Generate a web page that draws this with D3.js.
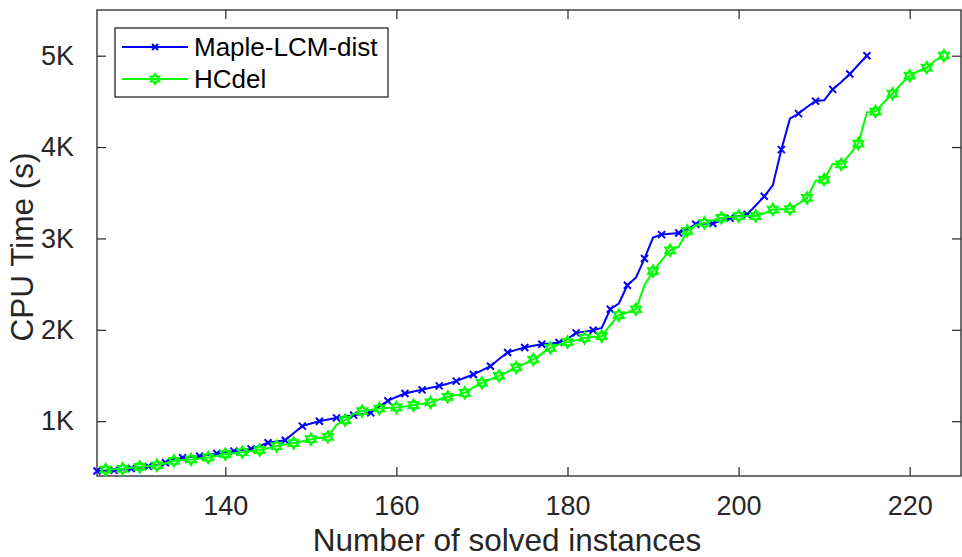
<!DOCTYPE html>
<html>
<head>
<meta charset="utf-8">
<script src="https://d3js.org/d3.v7.min.js"></script>
<style>
  body { margin: 0; background: #fff; }
  svg { display: block; font-family: "Liberation Sans", Arial, sans-serif; }
  .tick text { fill: #262626; }
</style>
</head>
<body>
<div id="chart"></div>
<script>
// Maple-LCM-dist, starts at 125 solved instances, one value per instance
var mapleStart = 125;
var mapleTime = [455, 458, 462, 472, 482, 493, 505, 520, 545, 590, 600, 610, 617, 632, 647, 660, 672, 685, 697, 730,
                 763, 778, 792, 870, 946, 975, 1000, 1018, 1036, 1050, 1066, 1078, 1091, 1160, 1222, 1265, 1303, 1325, 1343, 1365,
                 1386, 1410, 1438, 1475, 1511, 1555, 1602, 1680, 1752, 1780, 1806, 1825, 1842, 1850, 1861, 1900, 1966, 1980, 1996, 2021,
                 2225, 2288, 2488, 2570, 2780, 3010, 3042, 3050, 3060, 3100, 3155, 3160, 3163, 3195, 3222, 3245, 3262, 3360, 3461, 3581,
                 3972, 4311, 4366, 4438, 4503, 4511, 4631, 4711, 4799, 4901, 5000];

// HCdel, starts at 126 solved instances
var hcStart = 126;
var hcTime = [470, 475, 479, 490, 500, 508, 516, 540, 566, 575, 581, 592, 603, 620, 639, 650, 661, 672, 683, 705,
              727, 745, 760, 780, 803, 815, 829, 960, 1011, 1080, 1110, 1125, 1139, 1145, 1150, 1160, 1175, 1190, 1205, 1240,
              1266, 1285, 1310, 1370, 1419, 1460, 1496, 1540, 1588, 1630, 1675, 1740, 1802, 1840, 1866, 1885, 1911, 1920, 1930, 2050,
              2160, 2190, 2225, 2488, 2642, 2760, 2870, 2910, 3082, 3144, 3169, 3200, 3225, 3235, 3244, 3245, 3245, 3275, 3316, 3320,
              3322, 3380, 3443, 3630, 3644, 3815, 3811, 3920, 4038, 4380, 4388, 4490, 4584, 4690, 4781, 4830, 4869, 4950, 5000];

var xTicks = [140, 160, 180, 200, 220];
var yTicks = [1000, 2000, 3000, 4000, 5000];
var seriesNames = ["Maple-LCM-dist", "HCdel"];
var seriesColors = ["#0000ff", "#00ff00"];

var W = 962, H = 557;
var m = {left: 97, right: 961, top: 10, bottom: 476};

var x = d3.scaleLinear().domain([125, 226]).range([m.left, m.right]);
var y = d3.scaleLinear().domain([400, 5500]).range([m.bottom, m.top]);

var svg = d3.select("#chart").append("svg").attr("width", W).attr("height", H);

function toPoints(start, vals) {
    return vals.map(function(v, i) { return {n: start + i, t: v}; });
}
var maple = toPoints(mapleStart, mapleTime);
var hc = toPoints(hcStart, hcTime);

// axes
var fmtK = function(d) { return (d / 1000) + "K"; };
var xAxis = svg.append("g").attr("transform", "translate(0," + m.bottom + ")")
    .call(d3.axisBottom(x).tickValues(xTicks).tickSizeInner(-9).tickSizeOuter(0).tickPadding(20));
var xTop = svg.append("g").attr("transform", "translate(0," + m.top + ")")
    .call(d3.axisTop(x).tickValues(xTicks).tickSizeInner(-9).tickSizeOuter(0).tickFormat(""));
var yAxis = svg.append("g").attr("transform", "translate(" + m.left + ",0)")
    .call(d3.axisLeft(y).tickValues(yTicks).tickFormat(fmtK).tickSizeInner(-9).tickSizeOuter(0).tickPadding(23));
var yRight = svg.append("g").attr("transform", "translate(" + m.right + ",0)")
    .call(d3.axisRight(y).tickValues(yTicks).tickSizeInner(-9).tickSizeOuter(0).tickFormat(""));

[xAxis, xTop, yAxis, yRight].forEach(function(g) {
    g.selectAll(".domain").remove();
    g.selectAll("line").attr("stroke", "#262626").attr("stroke-width", 1.2);
});
xAxis.selectAll("text").attr("font-size", 27).attr("font-family", "Liberation Sans, Arial, sans-serif");
yAxis.selectAll("text").attr("font-size", 27).attr("font-family", "Liberation Sans, Arial, sans-serif");

svg.append("rect").attr("x", m.left).attr("y", m.top)
    .attr("width", m.right - m.left).attr("height", m.bottom - m.top)
    .attr("fill", "none").attr("stroke", "#262626").attr("stroke-width", 1.3);

// hexagram marker path
function hexagram(r) {
    var pts = [];
    for (var k = 0; k < 12; k++) {
        var a = -Math.PI / 2 + k * Math.PI / 6;
        var rr = (k % 2 === 0) ? r : r / Math.sqrt(3);
        pts.push([rr * Math.cos(a), rr * Math.sin(a)]);
    }
    return "M" + pts.map(function(p) { return p[0].toFixed(2) + "," + p[1].toFixed(2); }).join("L") + "Z";
}
function cross(r) {
    return "M" + (-r) + "," + (-r) + "L" + r + "," + r + "M" + (-r) + "," + r + "L" + r + "," + (-r);
}

var line = d3.line().x(function(d) { return x(d.n); }).y(function(d) { return y(d.t); });

var plot = svg.append("g");

// Maple-LCM-dist
plot.append("path").datum(maple).attr("d", line)
    .attr("fill", "none").attr("stroke", seriesColors[0]).attr("stroke-width", 2);
plot.selectAll(".mk-maple").data(maple.filter(function(d) { return d.n % 2 === 1; }))
    .enter().append("path").attr("class", "mk-maple")
    .attr("transform", function(d) { return "translate(" + x(d.n) + "," + y(d.t) + ")"; })
    .attr("d", cross(3.5)).attr("fill", "none").attr("stroke", seriesColors[0]).attr("stroke-width", 2);

// HCdel
plot.append("path").datum(hc).attr("d", line)
    .attr("fill", "none").attr("stroke", seriesColors[1]).attr("stroke-width", 2);
plot.selectAll(".mk-hc").data(hc.filter(function(d) { return d.n % 2 === 0; }))
    .enter().append("path").attr("class", "mk-hc")
    .attr("transform", function(d) { return "translate(" + x(d.n) + "," + y(d.t) + ")"; })
    .attr("d", hexagram(5.5)).attr("fill", "none").attr("stroke", seriesColors[1]).attr("stroke-width", 2.2);

// axis titles
svg.append("text").attr("x", 507).attr("y", 551).attr("text-anchor", "middle")
    .attr("font-size", 31.5).attr("fill", "#262626").text("Number of solved instances");
svg.append("text").attr("transform", "translate(33,247) rotate(-90)").attr("text-anchor", "middle")
    .attr("font-size", 31.5).attr("fill", "#262626").text("CPU Time (s)");

// legend
var lg = svg.append("g");
lg.append("rect").attr("x", 115).attr("y", 28).attr("width", 273).attr("height", 69)
    .attr("fill", "#fff").attr("stroke", "#262626").attr("stroke-width", 1.3);
var rows = [47, 79];
seriesNames.forEach(function(name, i) {
    lg.append("line").attr("x1", 122).attr("x2", 188).attr("y1", rows[i]).attr("y2", rows[i])
        .attr("stroke", seriesColors[i]).attr("stroke-width", 2);
    lg.append("path").attr("transform", "translate(155," + rows[i] + ")")
        .attr("d", i === 0 ? cross(3) : hexagram(5))
        .attr("fill", "none").attr("stroke", seriesColors[i]).attr("stroke-width", 2);
    lg.append("text").attr("x", 194).attr("y", rows[i]).attr("dy", "0.35em")
        .attr("font-size", 26).attr("fill", "#000").text(name);
});
</script>
</body>
</html>
